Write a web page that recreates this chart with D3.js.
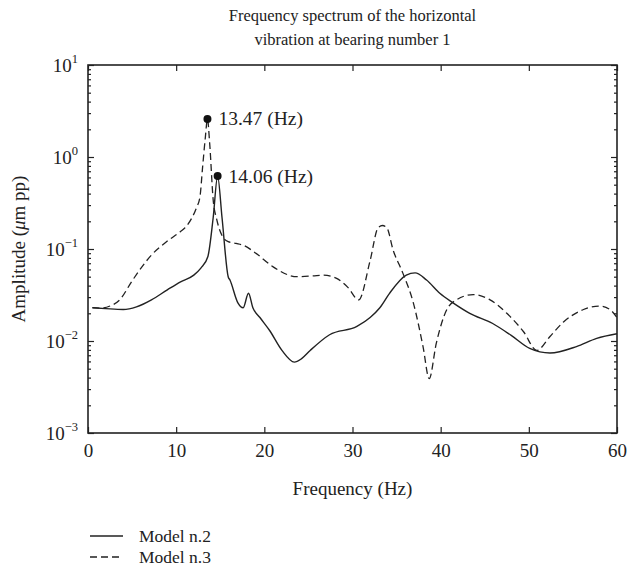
<!DOCTYPE html>
<html><head><meta charset="utf-8">
<script src="https://cdn.jsdelivr.net/npm/d3@7"></script>
<style>body{margin:0;background:#fff}svg{display:block}text{font-family:"Liberation Serif","Times New Roman",serif;fill:#222}</style>
</head><body><svg id="c" width="629" height="569"></svg>
<script>
const titleLines = ["Frequency spectrum of the horizontal", "vibration at bearing number 1"];
const xTicks = [0, 10, 20, 30, 40, 50, 60];
const yDecades = [1, 0, -1, -2, -3];
const seriesNames = ["Model n.2", "Model n.3"];

const freqSolid = [0.5, 2, 4, 5.5, 7.2, 9, 10.5, 12, 12.8, 13.6, 14.2, 14.7, 15.2, 15.9, 16.1, 17.0, 17.6, 18.2, 18.7, 19.5, 20.6, 22.0, 23.4, 24.2, 25.2, 27.4, 30.5, 32.0, 33.1, 34.2, 36.1, 37.1, 38.4, 39.9, 41.4, 43.3, 45.9, 48.0, 50.1, 52.4, 55.4, 57.7, 60];
const ampSolid  = [0.023, 0.0225, 0.022, 0.0235, 0.028, 0.036, 0.044, 0.052, 0.062, 0.083, 0.22, 0.62, 0.22, 0.05, 0.046, 0.026, 0.023, 0.033, 0.023, 0.018, 0.013, 0.0079, 0.0059, 0.0064, 0.0079, 0.0117, 0.0144, 0.018, 0.023, 0.033, 0.052, 0.055, 0.046, 0.033, 0.026, 0.020, 0.0155, 0.0115, 0.0083, 0.0074, 0.0087, 0.0107, 0.012];

const freqDashed = [0.5, 1.5, 2.5, 3.6, 5.0, 7.2, 9, 10.5, 11.0, 11.75, 12.3, 12.7, 13.0, 13.3, 13.55, 13.8, 14.2, 14.6, 15.2, 15.9, 16.8, 17.6, 19.1, 21.0, 23.7, 25.5, 26.7, 28.2, 29.5, 30.7, 32.0, 32.9, 33.4, 33.9, 34.6, 35.7, 36.9, 38.0, 38.7, 39.5, 40.7, 41.8, 43.7, 45.6, 47.5, 49.4, 50.9, 52.4, 53.9, 56.2, 58.0, 59.2, 60];
const ampDashed  = [0.023, 0.0228, 0.024, 0.028, 0.045, 0.086, 0.122, 0.155, 0.17, 0.215, 0.28, 0.37, 0.78, 1.6, 2.59, 1.41, 0.34, 0.21, 0.14, 0.12, 0.115, 0.11, 0.089, 0.064, 0.050, 0.051, 0.052, 0.048, 0.038, 0.028, 0.075, 0.17, 0.18, 0.17, 0.098, 0.055, 0.026, 0.0087, 0.0039, 0.0094, 0.022, 0.028, 0.032, 0.028, 0.020, 0.0126, 0.0079, 0.0112, 0.016, 0.022, 0.024, 0.022, 0.018];

const peakFreq = [13.55, 14.7];
const peakAmp = [2.59, 0.62];
const peakLabels = ["13.47 (Hz)", "14.06 (Hz)"];

const svg = d3.select("#c");
const L = 88, R = 617, T = 65, B = 433;
const x = d3.scaleLinear().domain([0, 60]).range([L, R]);
const y = d3.scaleLog().domain([1e-3, 10]).range([B, T]);
const ink = "#222";

// title
svg.append("g").selectAll("text").data(titleLines).join("text")
  .attr("x", (L + R) / 2).attr("y", (d, i) => 21 + i * 24)
  .attr("text-anchor", "middle").attr("font-size", 16.5).text(d => d);

// curves
const line = d3.line().x(d => x(d[0])).y(d => y(d[1])).curve(d3.curveMonotoneX);
const solid = freqSolid.map((f, i) => [f, ampSolid[i]]);
const dashed = freqDashed.map((f, i) => [f, ampDashed[i]]);
const plot = svg.append("g");
plot.append("path").datum(dashed).attr("d", line).attr("fill", "none").attr("stroke", ink).attr("stroke-width", 1.3).attr("stroke-dasharray", "7,4");
plot.append("path").datum(solid).attr("d", line).attr("fill", "none").attr("stroke", ink).attr("stroke-width", 1.4);

// peak markers
const peaks = peakFreq.map((f, i) => ({f, a: peakAmp[i], t: peakLabels[i]}));
plot.selectAll("circle").data(peaks).join("circle")
  .attr("cx", d => x(d.f)).attr("cy", d => y(d.a)).attr("r", 4).attr("fill", "#111");
plot.selectAll("text.pk").data(peaks).join("text").attr("class", "pk")
  .attr("x", d => x(d.f) + 11).attr("y", d => y(d.a) + 6.5).attr("font-size", 19.5).text(d => d.t);

// axes (ticks inward)
const gx = svg.append("g").attr("transform", `translate(0,${B})`)
  .call(d3.axisBottom(x).tickValues(xTicks).tickSize(-6).tickPadding(11).tickFormat(d3.format("d")));
svg.append("g").attr("transform", `translate(0,${T})`)
  .call(d3.axisTop(x).tickValues(xTicks).tickSize(-6).tickFormat(""));
const minor = [];
for (let e = -3; e < 1; e++) for (let m = 2; m <= 9; m++) minor.push(m * Math.pow(10, e));
const majors = yDecades.map(e => Math.pow(10, e));
svg.append("g").attr("transform", `translate(${L},0)`)
  .call(d3.axisLeft(y).tickValues(majors).tickSize(-6).tickFormat(""));
svg.append("g").attr("transform", `translate(${R},0)`)
  .call(d3.axisRight(y).tickValues(majors).tickSize(-6).tickFormat(""));
svg.append("g").attr("transform", `translate(${L},0)`)
  .call(d3.axisLeft(y).tickValues(minor).tickSize(-3).tickFormat(""));
svg.append("g").attr("transform", `translate(${R},0)`)
  .call(d3.axisRight(y).tickValues(minor).tickSize(-3).tickFormat(""));
svg.selectAll(".domain").remove();
svg.selectAll(".tick line").attr("stroke", ink).attr("stroke-width", 1.2);
gx.selectAll("text").attr("font-size", 19).attr("fill", ink).attr("font-family", '"Liberation Serif",serif');
svg.append("rect").attr("x", L).attr("y", T).attr("width", R - L).attr("height", B - T)
  .attr("fill", "none").attr("stroke", ink).attr("stroke-width", 1.6);

// y tick labels with superscripts
const yl = svg.append("g").selectAll("text").data(yDecades).join("text")
  .attr("x", L - 10).attr("y", e => y(Math.pow(10, e)) + 7).attr("text-anchor", "end").attr("font-size", 19);
yl.append("tspan").text("10");
yl.append("tspan").attr("dy", -9).attr("font-size", 12.5).text(e => String(e).replace("-", "\u2212"));

// axis titles
svg.append("text").attr("x", (L + R) / 2).attr("y", 495).attr("text-anchor", "middle").attr("font-size", 19).text("Frequency (Hz)");
const yt = svg.append("text").attr("transform", `translate(25,${(T + B) / 2}) rotate(-90)`).attr("text-anchor", "middle").attr("font-size", 19);
yt.append("tspan").text("Amplitude (");
yt.append("tspan").attr("font-style", "italic").text("\u03bc");
yt.append("tspan").text("m pp)");

// legend
const lg = svg.append("g").selectAll("g").data(seriesNames).join("g")
  .attr("transform", (d, i) => `translate(0,${536 + i * 21})`);
lg.append("line").attr("x1", 90).attr("x2", 123).attr("y1", 0).attr("y2", 0)
  .attr("stroke", ink).attr("stroke-width", 1.3).attr("stroke-dasharray", (d, i) => i ? "7,4" : null);
lg.append("text").attr("x", 139).attr("y", 6).attr("font-size", 17.5).text(d => d);
</script></body></html>
